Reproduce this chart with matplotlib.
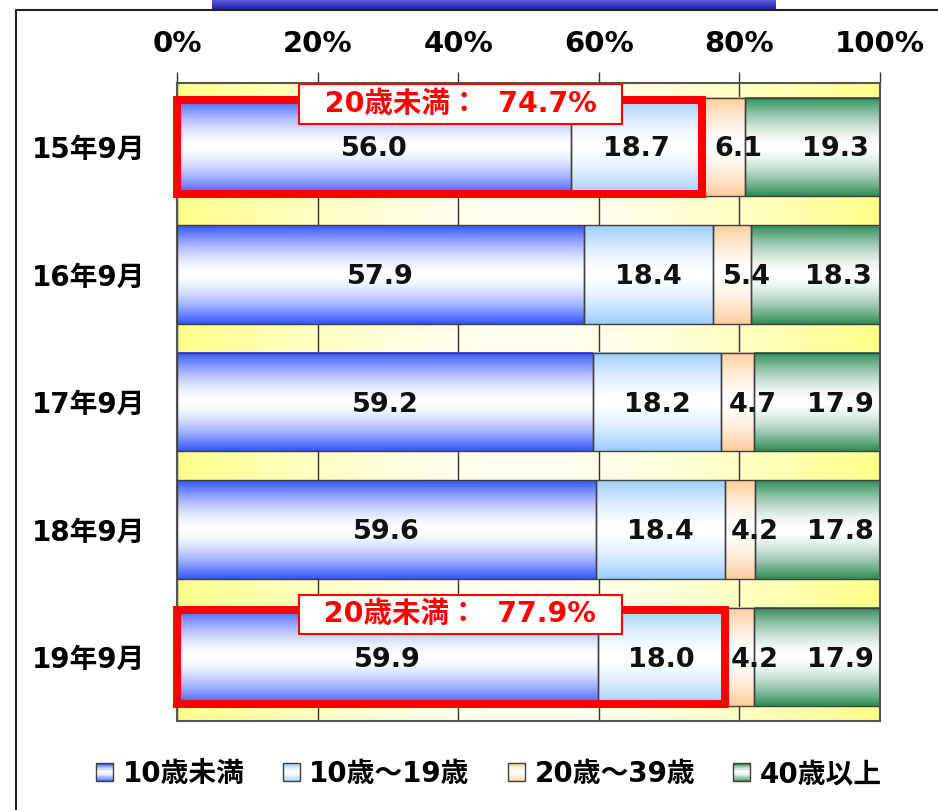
import numpy as np
import matplotlib
matplotlib.use('Agg')
import matplotlib.pyplot as plt
from matplotlib.colors import to_rgb
from matplotlib.patches import Rectangle, Patch
from matplotlib.legend_handler import HandlerBase
from matplotlib.lines import Line2D

# ---------------- data ----------------
categories = ['15年9月', '16年9月', '17年9月', '18年9月', '19年9月']
series_names = ['10歳未満', '10歳〜19歳', '20歳〜39歳', '40歳以上']
under10 = [56.0, 57.9, 59.2, 59.6, 59.9]
age10_19 = [18.7, 18.4, 18.2, 18.4, 18.0]
age20_39 = [6.1, 5.4, 4.7, 4.2, 4.2]
age40plus = [19.3, 18.3, 17.9, 17.8, 17.9]
x_ticks = [0, 20, 40, 60, 80, 100]
x_tick_labels = ['0%', '20%', '40%', '60%', '80%', '100%']
highlight_rows = [0, 4]

# ---------------- style ----------------
series = [under10, age10_19, age20_39, age40plus]
colors = ['#3355FF', '#99CCFF', '#FFCC99', '#2E8B57']
label_offsets_px = [0, 0, 15, 23]
ANN_X = 40.3
ANN_DY = -0.335

FONT = ['DejaVu Sans', 'Noto Sans CJK JP']
plt.rcParams['font.family'] = FONT
plt.rcParams['font.weight'] = 'bold'

W, H = 938, 810
fig = plt.figure(figsize=(W / 100, H / 100), dpi=100)
ax = fig.add_axes([177 / W, 1 - 721 / H, 703 / W, 638 / H])

# background gradient (yellow at the sides, pale in the middle)
xs = np.linspace(0, 1, 256)
prof = (np.abs(xs - 0.5) / 0.5) ** 1.6
yellow = np.array(to_rgb('#FFFF88'))
pale = np.array(to_rgb('#FFFFF2'))
bg = pale[None, :] * (1 - prof[:, None]) + yellow[None, :] * prof[:, None]
ax.imshow(bg[None, :, :], extent=(0, 100, 4.5, -0.5), aspect='auto',
          zorder=0, interpolation='bilinear')

ax.set_axisbelow(True)
ax.grid(axis='x', color='#333333', lw=1)

height = 0.77
y = np.arange(len(categories))
left = np.zeros(len(categories))
gy = np.linspace(-1, 1, 128)
for i, vals in enumerate(series):
    vals = np.array(vals)
    bars = ax.barh(y, vals, left=left, height=height, facecolor='none',
                   edgecolor='#404040', lw=1, zorder=3)
    c = np.array(to_rgb(colors[i]))
    p = np.abs(gy) ** 1.6
    g = np.ones(3)[None, :] * (1 - p[:, None]) + c[None, :] * p[:, None]
    for b in bars:
        x0, y0 = b.get_x(), b.get_y()
        w, h = b.get_width(), b.get_height()
        ax.imshow(g[:, None, :], extent=(x0, x0 + w, y0 + h, y0), aspect='auto',
                  zorder=2, interpolation='bilinear')
    for b, v in zip(bars, vals):
        ax.annotate(f'{v:.1f}', (b.get_x() + b.get_width() / 2, b.get_y() + b.get_height() / 2),
                    xytext=(label_offsets_px[i] * 0.72, -1.8), textcoords='offset points',
                    ha='center', va='center', fontsize=19.5, fontweight='bold',
                    color='#111111', zorder=6)
    left = left + vals

under20 = np.array(under10) + np.array(age10_19)
hl = ax.barh(highlight_rows, under20[highlight_rows], left=0, height=0.74,
             facecolor='none', edgecolor='#FF0000', lw=5.8, zorder=4, clip_on=False)
for b in hl:
    b.set_joinstyle('miter')

for r in highlight_rows:
    ax.text(ANN_X, r + ANN_DY, f'  20歳未満：  {under20[r]:.1f}%  ', ha='center', va='center',
            color='#FF0000', fontsize=20.5, fontweight='bold', zorder=7,
            bbox=dict(boxstyle='square,pad=0.2', fc='white', ec='#FF0000', lw=1.5))

ax.set_xlim(0, 100)
ax.set_ylim(4.5, -0.5)
ax.xaxis.tick_top()
ax.set_xticks(x_ticks)
ax.set_xticklabels(x_tick_labels)
ax.tick_params(axis='x', length=8, width=1, color='#333333', pad=10, labelsize=21)
ax.set_yticks(y)
ax.set_yticklabels(categories)
ax.tick_params(axis='y', length=0, pad=23, labelsize=20)
for s in ax.spines.values():
    s.set_color('#555555')
    s.set_linewidth(1.5)


class GradHandler(HandlerBase):
    def create_artists(self, legend, orig_handle, xdescent, ydescent, width, height,
                       fontsize, trans):
        c = np.array(to_rgb(orig_handle.get_facecolor()))
        n = 14
        arts = []
        for k in range(n):
            tt = abs((k + 0.5) / n * 2 - 1) ** 1.5
            col = (1 - tt) * np.ones(3) + tt * c
            arts.append(Rectangle((-xdescent, -ydescent + k * height / n), width,
                                  height / n * 1.05, facecolor=col, edgecolor='none',
                                  transform=trans))
        arts.append(Rectangle((-xdescent, -ydescent), width, height, facecolor='none',
                              edgecolor='#404040', lw=1, transform=trans))
        return arts


handles = [Patch(facecolor=c, label=n) for c, n in zip(colors, series_names)]
fig.legend(handles=handles, loc='center', bbox_to_anchor=(489 / W, 1 - 774 / H), ncol=4,
           frameon=False, handler_map={Patch: GradHandler()}, handlelength=0.6,
           handleheight=0.6, handletextpad=0.35, columnspacing=1.38,
           prop=dict(family=FONT, weight='bold', size=20))

# outer frame and title bar remnant
fig.add_artist(Line2D([16 / W, 16 / W, 1], [0, 1 - 9.5 / H, 1 - 9.5 / H],
                      transform=fig.transFigure, color='#222222', lw=1.5))
bax = fig.add_axes([212 / W, 1 - 9 / H, 563 / W, 9 / H])
bax.axis('off')
tb = np.linspace(0, 1, 32)
c1 = np.array(to_rgb('#5A5AD8'))
c2 = np.array(to_rgb('#2020B8'))
tg = c1[None, :] * (1 - tb[:, None]) + c2[None, :] * tb[:, None]
bax.imshow(tg[:, None, :], aspect='auto', extent=(0, 1, 0, 1))

fig.savefig('out.png', dpi=100)
